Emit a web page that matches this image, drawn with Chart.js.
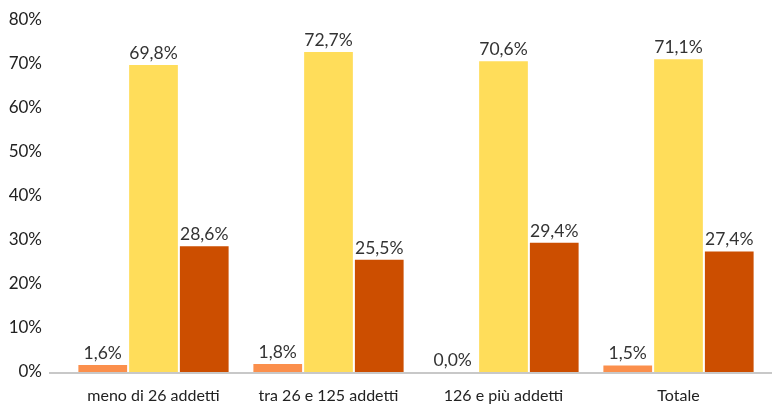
<!DOCTYPE html>
<html>
<head>
<meta charset="utf-8">
<script src="https://cdn.jsdelivr.net/npm/chart.js@4"></script>
<style>
  html, body { margin: 0; padding: 0; background: #fff; }
  #wrap { width: 772px; height: 405px; }
</style>
</head>
<body>
<div id="wrap"><canvas id="chart" width="772" height="405"></canvas></div>
<script>
// dati
const categorie = ['meno di 26 addetti', 'tra 26 e 125 addetti', '126 e più addetti', 'Totale'];
const serieA = [1.6, 1.8, 0.0, 1.5];
const serieB = [69.8, 72.7, 70.6, 71.1];
const serieC = [28.6, 25.5, 29.4, 27.4];
const tickY = [0, 10, 20, 30, 40, 50, 60, 70, 80];

const FONT = 'Lato, "DejaVu Sans", sans-serif';

const fmt = v => v.toFixed(1).replace('.', ',') + '%';

// etichette sopra le barre + linea base
const etichette = {
    id: 'etichette',
    afterDatasetsDraw(chart) {
        const ctx = chart.ctx;
        const y0 = chart.scales.y.getPixelForValue(0);
        ctx.save();
        ctx.strokeStyle = '#c8c8c8';
        ctx.lineWidth = 2;
        ctx.beginPath();
        ctx.moveTo(49, y0 + 1);
        ctx.lineTo(772, y0 + 1);
        ctx.stroke();

        ctx.font = '17.5px ' + FONT;
        ctx.fillStyle = '#333';
        ctx.textAlign = 'center';
        ctx.textBaseline = 'bottom';
        chart.data.datasets.forEach((ds, i) => {
            chart.getDatasetMeta(i).data.forEach((bar, j) => {
                ctx.fillText(fmt(ds.data[j]), bar.x, bar.y - 3);
            });
        });
        ctx.restore();
    }
};

new Chart(document.getElementById('chart'), {
    type: 'bar',
    data: {
        labels: categorie,
        datasets: [
            { data: serieA, backgroundColor: '#fb8f4c' },
            { data: serieB, backgroundColor: '#ffdd5a' },
            { data: serieC, backgroundColor: '#cc4e00' }
        ]
    },
    options: {
        responsive: false,
        animation: false,
        layout: { padding: { top: 20, right: 6, left: 0, bottom: 0 } },
        categoryPercentage: 0.87,
        barPercentage: 0.96,
        plugins: { legend: { display: false }, tooltip: { enabled: false } },
        scales: {
            x: {
                grid: { display: false },
                border: { display: false },
                ticks: { color: '#222', font: { family: FONT, size: 16 }, padding: 6, maxRotation: 0 },
                afterFit: s => { s.height = 33; }
            },
            y: {
                min: 0, max: 80,
                grid: { display: false, drawTicks: false },
                border: { display: false },
                afterBuildTicks: s => { s.ticks = tickY.map(v => ({ value: v })); },
                ticks: { color: '#222', font: { family: FONT, size: 17 }, padding: 24, callback: v => v + '%' },
                afterFit: s => { s.width = 66; s.paddingTop = 0; s.paddingBottom = 0; }
            }
        }
    },
    plugins: [etichette]
});
</script>
</body>
</html>
